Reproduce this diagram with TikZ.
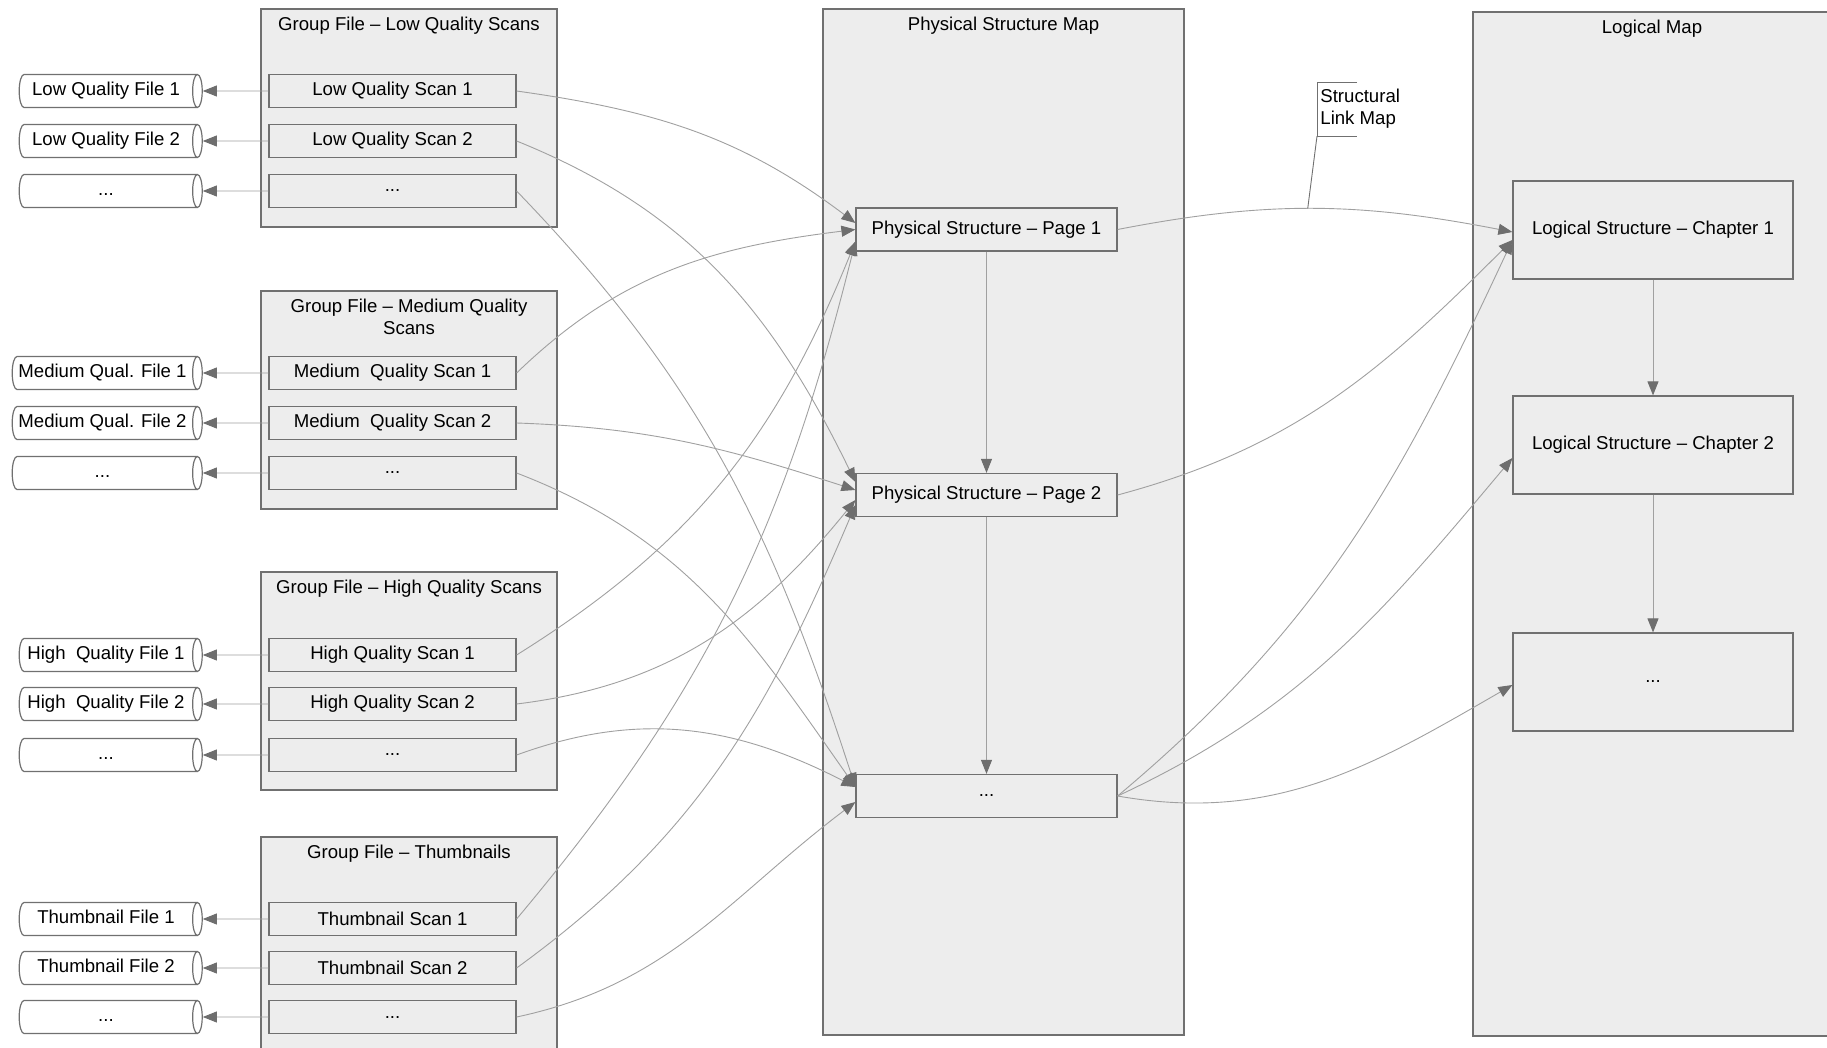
\documentclass[tikz,border=0pt]{standalone}
\usepackage{fontspec}
\setmainfont{Liberation Sans}
\usetikzlibrary{shapes.geometric,arrows.meta}
\definecolor{boxfill}{HTML}{EDEDED}
\definecolor{boxline}{HTML}{707070}
\definecolor{linkline}{HTML}{A0A0A0}
\definecolor{tipgray}{HTML}{6E6E6E}
\begin{document}
\begin{tikzpicture}[x=0.5pt,y=0.5pt,font=\fontsize{9.3}{11}\selectfont,
	container/.style={draw=boxline,fill=boxfill,line width=0.6pt,inner sep=0pt},
	title/.style={anchor=north,inner sep=0pt,yshift=-4pt,align=center},
	scan/.style={draw=boxline,fill=boxfill,line width=0.6pt,minimum width=123.5pt,minimum height=16.5pt,inner sep=1pt},
	file/.style={cylinder,shape border rotate=0,aspect=0.29,draw=boxline,fill=white,line width=0.6pt,minimum height=91.5pt,minimum width=16.5pt,text height=6.8pt,text depth=2pt,inner xsep=1pt,inner ysep=3.85pt},
	page/.style={draw=boxline,fill=boxfill,line width=0.6pt,minimum width=130.5pt,minimum height=21.5pt},
	chapter/.style={draw=boxline,fill=boxfill,line width=0.6pt,minimum width=140pt,minimum height=49pt},
	link/.style={draw=linkline,line width=0.45pt,-{Triangle[length=7pt,width=5.5pt,color=tipgray]}}]
	\useasboundingbox (0,0) rectangle (1827,-1048);
	\node[container,minimum width=148pt,minimum height=109pt] (glow) at (409,-118) {};
	\node[title] (tlow) at (glow.north) {Group File \textendash{} Low Quality Scans};
	\node[container,minimum width=148pt,minimum height=109pt] (gmed) at (409,-400) {};
	\node[title] (tmed) at (gmed.north) {Group File \textendash{} Medium Quality\\Scans};
	\node[container,minimum width=148pt,minimum height=109pt] (ghigh) at (409,-681) {};
	\node[title] (thigh) at (ghigh.north) {Group File \textendash{} High Quality Scans};
	\node[container,minimum width=148pt,minimum height=109pt] (gthumb) at (409,-946) {};
	\node[title] (tthumb) at (gthumb.north) {Group File \textendash{} Thumbnails};
	\node[container,minimum width=180.5pt,minimum height=513pt] (pmap) at (1003.5,-522) {};
	\node[title] (tpmap) at (pmap.north) {Physical Structure Map};
	\node[container,minimum width=200pt,minimum height=512pt] (lmap) at (1673,-524) {};
	\node[title] (tlmap) at ([xshift=-10.5pt]lmap.north) {Logical Map};
	\node[scan] (ls1) at (392.5,-91) {Low Quality Scan 1};
	\node[scan] (ls2) at (392.5,-141) {Low Quality Scan 2};
	\node[scan] (ls3) at (392.5,-191) {...};
	\node[scan] (ms1) at (392.5,-373) {Medium~~Quality Scan 1};
	\node[scan] (ms2) at (392.5,-423) {Medium~~Quality Scan 2};
	\node[scan] (ms3) at (392.5,-473) {...};
	\node[scan] (hs1) at (392.5,-655) {High Quality Scan 1};
	\node[scan] (hs2) at (392.5,-704) {High Quality Scan 2};
	\node[scan] (hs3) at (392.5,-755) {...};
	\node[scan] (ts1) at (392.5,-919) {Thumbnail Scan 1};
	\node[scan] (ts2) at (392.5,-968) {Thumbnail Scan 2};
	\node[scan] (ts3) at (392.5,-1017) {...};
	\node[file] (lf1) at (106,-91) {Low Quality File 1};
	\node[file] (lf2) at (106,-141) {Low Quality File 2};
	\node[file] (lf3) at (106,-191) {...};
	\node[file,minimum height=95pt] (mf1) at (102.5,-373) {Medium Qual. File 1};
	\node[file,minimum height=95pt] (mf2) at (102.5,-423) {Medium Qual. File 2};
	\node[file,minimum height=95pt] (mf3) at (102.5,-473) {...};
	\node[file] (hf1) at (106,-655) {High~~Quality File 1};
	\node[file] (hf2) at (106,-704) {High~~Quality File 2};
	\node[file] (hf3) at (106,-755) {...};
	\node[file] (tf1) at (106,-919) {Thumbnail File 1};
	\node[file] (tf2) at (106,-968) {Thumbnail File 2};
	\node[file] (tf3) at (106,-1017) {...};
	\node[page] (pg1) at (986.5,-229.5) {Physical Structure \textendash{} Page 1};
	\node[page] (pg2) at (986.5,-495) {Physical Structure \textendash{} Page 2};
	\node[page] (pg3) at (986.5,-796) {...};
	\node[chapter] (ch1) at (1653,-230) {Logical Structure \textendash{} Chapter 1};
	\node[chapter] (ch2) at (1653,-445) {Logical Structure \textendash{} Chapter 2};
	\node[chapter] (ch3) at (1653,-682) {...};
	\node[anchor=north west,align=left,inner xsep=1.5pt,inner ysep=3.5pt] (slm) at (1317,-82) {Structural\\Link Map};
	\draw[link] (ls1.west) -- (lf1.east);
	\draw[link] (ls2.west) -- (lf2.east);
	\draw[link] (ls3.west) -- (lf3.east);
	\draw[link] (ms1.west) -- (mf1.east);
	\draw[link] (ms2.west) -- (mf2.east);
	\draw[link] (ms3.west) -- (mf3.east);
	\draw[link] (hs1.west) -- (hf1.east);
	\draw[link] (hs2.west) -- (hf2.east);
	\draw[link] (hs3.west) -- (hf3.east);
	\draw[link] (ts1.west) -- (tf1.east);
	\draw[link] (ts2.west) -- (tf2.east);
	\draw[link] (ts3.west) -- (tf3.east);
	\draw[link] (ls1.east) to[out=-8,in=143] ([yshift=3.25pt]pg1.west);
	\draw[link] (ls2.east) to[out=-22,in=116] ([yshift=6.5pt]pg2.west);
	\draw[link] (ls3.east) to[out=-46,in=108] ([yshift=4.5pt]pg3.west);
	\draw[link] (ms1.east) to[out=44,in=187] (pg1.west);
	\draw[link] (ms2.east) to[out=-2,in=162] ([yshift=2.5pt]pg2.west);
	\draw[link] (ms3.east) to[out=-21,in=125] ([yshift=4.5pt]pg3.west);
	\draw[link] (hs1.east) to[out=32,in=248] ([yshift=-6pt]pg1.west);
	\draw[link] (hs2.east) to[out=7,in=231] ([yshift=-2.5pt]pg2.west);
	\draw[link] (hs3.east) to[out=20,in=153] ([yshift=4.5pt]pg3.west);
	\draw[link] (ts1.east) to[out=50,in=256] ([yshift=-6pt]pg1.west);
	\draw[link] (ts2.east) to[out=36,in=247] ([yshift=-5pt]pg2.west);
	\draw[link] (ts3.east) to[out=12,in=217] ([yshift=-3pt]pg3.west);
	\draw[link] (pg1) -- (pg2);
	\draw[link] (pg2) -- (pg3);
	\draw[link] (ch1) -- (ch2);
	\draw[link] (ch2) -- (ch3);
	\draw[link] (pg1.east) to[out=11,in=169] coordinate[pos=0.48] (lk) ([yshift=-1pt]ch1.west);
	\draw[link] (pg2.east) to[out=15,in=225] ([yshift=-5pt]ch1.west);
	\draw[link] (pg3.east) to[out=40,in=245] ([yshift=-5pt]ch1.west);
	\draw[link] (pg3.east) to[out=25,in=230] ([yshift=-6.5pt]ch2.west);
	\draw[link] (pg3.east) to[out=-10,in=210] ([yshift=-1.5pt]ch3.west);
	\draw[boxline,line width=0.45pt] ([xshift=20pt]slm.north west) -- (slm.north west) -- (slm.south west) -- ([xshift=20pt]slm.south west);
	\draw[boxline,line width=0.45pt] (slm.south west) -- (lk);
\end{tikzpicture}
\end{document}
